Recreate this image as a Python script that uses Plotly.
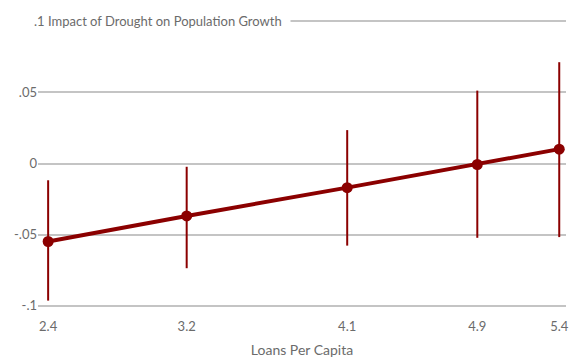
import plotly.graph_objects as go

x_vals = [2.36, 3.18, 4.13, 4.90, 5.385]
x_labels = ["2.4", "3.2", "4.1", "4.9", "5.4"]
effect = [-0.0549, -0.0369, -0.0170, -0.0007, 0.0101]
ci_upper = [-0.0118, -0.0023, 0.0235, 0.0513, 0.0713]
ci_lower = [-0.0965, -0.0737, -0.0578, -0.0523, -0.0518]
y_ticks = [-0.1, -0.05, 0, 0.05, 0.1]
y_labels = ["-.1", "-.05", "0", ".05", ""]
y_title = ".1 Impact of Drought on Population Growth"
x_title = "Loans Per Capita"

err_plus = [u - e for u, e in zip(ci_upper, effect)]
err_minus = [e - l for e, l in zip(effect, ci_lower)]

red = "#8b0000"
fig = go.Figure()
fig.add_trace(go.Scatter(
    x=x_vals, y=effect, mode="lines+markers",
    line=dict(color=red, width=4),
    marker=dict(color=red, size=11),
    error_y=dict(type="data", array=err_plus, arrayminus=err_minus,
                 color=red, thickness=2, width=0),
))

font = dict(family="Lato, Open Sans, sans-serif", color="#6b6b6b", size=13)
fig.update_layout(
    width=569, height=358,
    margin=dict(l=38, r=0, t=20, b=51),
    plot_bgcolor="white", paper_bgcolor="white",
    showlegend=False,
    font=font,
    xaxis=dict(range=[2.30, 5.425], tickvals=x_vals, ticktext=x_labels,
               showgrid=False, zeroline=False, showline=False,
               ticklabeloverflow="allow", ticklabelstandoff=10,
               title=dict(text=x_title, font=dict(size=14, color="#6b6b6b"), standoff=12),
               ticks="", tickfont=dict(size=13)),
    yaxis=dict(range=[-0.101, 0.101], tickvals=y_ticks, ticktext=y_labels,
               showgrid=True, gridcolor="#c4c4c4", gridwidth=1.5,
               zeroline=False, showline=False, ticks="",
               tickfont=dict(size=13)),
    annotations=[dict(text=y_title, xref="paper", yref="y", x=-0.024, y=0.1,
                      xanchor="left", yanchor="middle", showarrow=False,
                      bgcolor="white", borderpad=8,
                      font=dict(size=13, color="#6b6b6b"))],
)
fig.write_html("out.html")
